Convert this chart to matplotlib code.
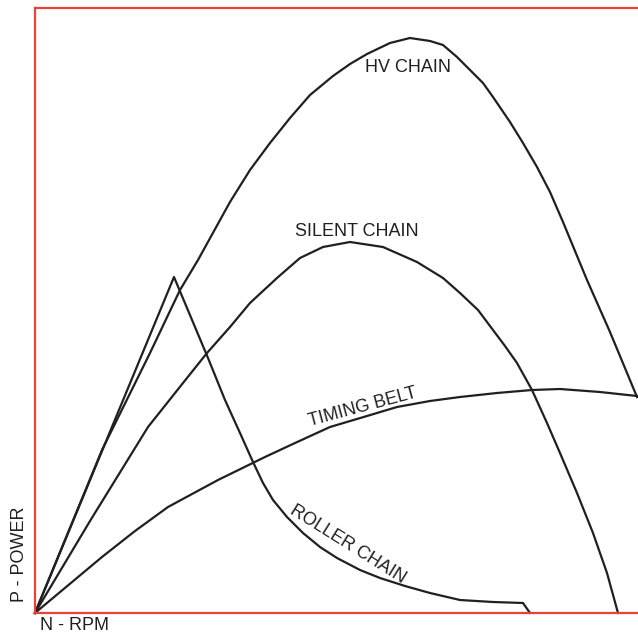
import matplotlib
matplotlib.use("Agg")
import matplotlib.pyplot as plt

plt.rcParams['font.family'] = ['Liberation Sans', 'DejaVu Sans']

# curves (arbitrary units: N along x, P along y)
hv_n = [0, 67, 115, 145, 163, 195, 215, 235, 255, 275, 298, 315, 332, 355, 375,
        395, 408, 422, 448, 458, 475, 488, 502, 515, 528, 552, 575, 602]
hv_p = [0, 163, 260, 323, 353, 411, 443, 470, 495, 518, 537, 549, 559, 570, 575,
        572, 568, 556, 530, 516, 491, 470, 446, 421, 391, 333, 281, 216]

silent_n = [0, 55, 113, 148, 172, 195, 215, 242, 265, 288, 315, 348, 382, 408,
            425, 443, 458, 470, 482, 497, 512, 525, 542, 558, 572, 583]
silent_p = [0, 92, 186, 230, 260, 286, 310, 335, 355, 366, 371, 366, 351, 335,
            320, 303, 283, 267, 250, 223, 190, 160, 120, 80, 40, 0]

timing_n = [0, 67, 100, 133, 183, 230, 260, 295, 332, 362, 395, 425, 462, 497, 525, 565, 602]
timing_p = [0, 56, 82, 106, 133, 156, 170, 186, 197, 206, 212, 216, 220, 223, 224, 221, 217]

roller_n = [0, 139, 173, 190, 205, 218, 228, 238, 252, 268, 285, 302, 325, 345,
            370, 395, 425, 458, 488, 495]
roller_p = [0, 336, 255, 213, 180, 151, 130, 113, 96, 80, 66, 55, 43, 35,
            27, 20, 13, 11, 10, 0]

ink = '#231f20'
red = '#e8423a'
fs = 13

fig = plt.figure(figsize=(6.38, 6.34), dpi=100)
ax = fig.add_axes([35 / 638, 21 / 634, 603 / 638, 605 / 634])

for n, p in [(hv_n, hv_p), (silent_n, silent_p), (timing_n, timing_p), (roller_n, roller_p)]:
    ax.plot(n, p, color=ink, lw=1.6, solid_joinstyle='round', clip_on=False)

ax.text(373, 546, 'HV CHAIN', color=ink, fontsize=fs, ha='center', va='center')
ax.text(322, 382, 'SILENT CHAIN', color=ink, fontsize=fs, ha='center', va='center')
ax.text(328, 206, 'TIMING BELT', color=ink, fontsize=fs, ha='center', va='center',
        rotation=15, rotation_mode='anchor')
ax.text(313, 69, 'ROLLER CHAIN', color=ink, fontsize=fs, ha='center', va='center',
        rotation=-32, rotation_mode='anchor')

ax.set_xlim(0, 603)
ax.set_ylim(0, 605)
ax.set_xticks([])
ax.set_yticks([])
ax.spines['right'].set_visible(False)
for s in ['left', 'top', 'bottom']:
    ax.spines[s].set_color(red)
    ax.spines[s].set_linewidth(1.6)

fig.text(20 / 638, 1 - 554 / 634, 'P - POWER', color=ink, fontsize=fs,
         rotation=90, ha='center', va='center')
fig.text(75 / 638, 1 - 626 / 634, 'N - RPM', color=ink, fontsize=fs,
         ha='center', va='center')

fig.savefig('out.png', dpi=100)
